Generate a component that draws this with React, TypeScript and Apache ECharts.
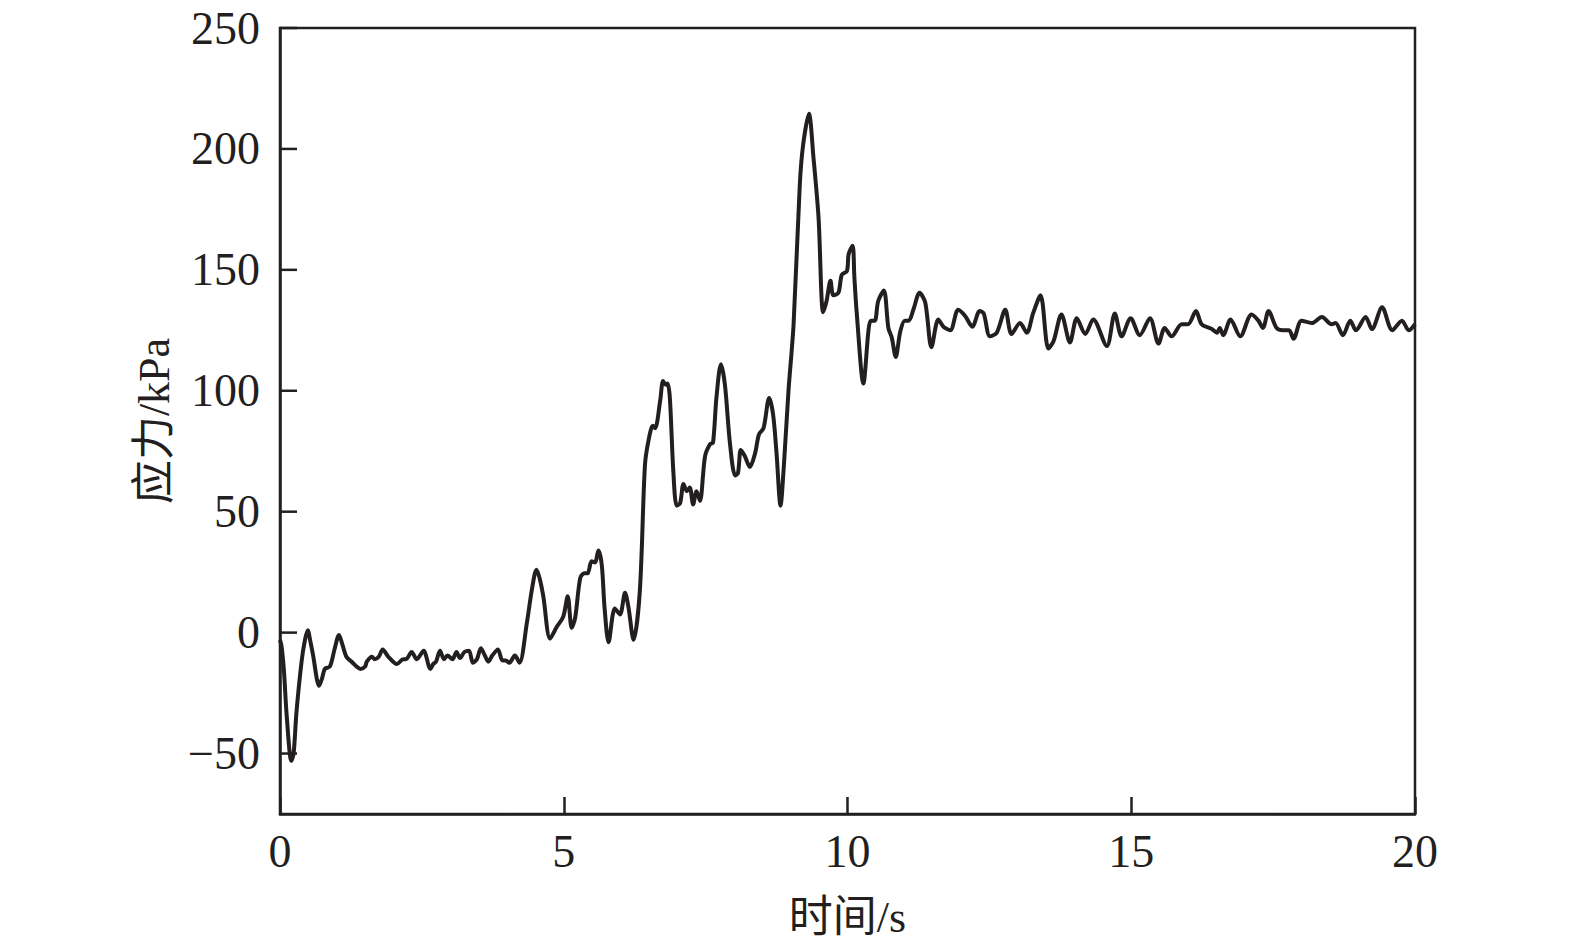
import React, { useEffect, useRef } from "react";
import * as echarts from "echarts";

const timeS = [0, 0.03, 0.07, 0.12, 0.2, 0.24, 0.29, 0.38, 0.44, 0.49, 0.53, 0.58, 0.69, 0.74, 0.79, 0.88, 0.96, 1.04, 1.1, 1.17, 1.26, 1.42, 1.5, 1.53, 1.62, 1.67, 1.74, 1.81, 1.91, 2.06, 2.17, 2.22, 2.32, 2.41, 2.53, 2.65, 2.7, 2.75, 2.82, 2.89, 2.95, 3.04, 3.11, 3.17, 3.25, 3.33, 3.4, 3.47, 3.54, 3.61, 3.67, 3.74, 3.84, 3.92, 3.98, 4.04, 4.14, 4.22, 4.35, 4.44, 4.52, 4.58, 4.64, 4.76, 4.88, 4.99, 5.07, 5.14, 5.2, 5.29, 5.36, 5.42, 5.49, 5.55, 5.61, 5.67, 5.72, 5.79, 5.9, 5.99, 6.08, 6.14, 6.23, 6.34, 6.43, 6.49, 6.57, 6.61, 6.7, 6.75, 6.8, 6.83, 6.87, 6.93, 6.99, 7.05, 7.11, 7.17, 7.22, 7.28, 7.34, 7.4, 7.49, 7.58, 7.63, 7.69, 7.77, 7.84, 7.93, 8.02, 8.07, 8.12, 8.19, 8.28, 8.37, 8.44, 8.52, 8.62, 8.69, 8.75, 8.82, 8.88, 8.96, 9.05, 9.16, 9.22, 9.32, 9.4, 9.49, 9.57, 9.63, 9.7, 9.75, 9.84, 9.9, 9.99, 10.02, 10.09, 10.12, 10.16, 10.28, 10.37, 10.41, 10.48, 10.54, 10.64, 10.72, 10.78, 10.85, 10.93, 11.01, 11.08, 11.16, 11.27, 11.37, 11.48, 11.6, 11.69, 11.81, 11.95, 12.07, 12.2, 12.33, 12.4, 12.51, 12.63, 12.78, 12.89, 13.04, 13.16, 13.27, 13.4, 13.54, 13.63, 13.77, 13.92, 14.04, 14.19, 14.33, 14.57, 14.71, 14.83, 14.99, 15.15, 15.33, 15.48, 15.59, 15.71, 15.89, 16.0, 16.14, 16.24, 16.42, 16.51, 16.56, 16.62, 16.75, 16.92, 17.12, 17.24, 17.32, 17.42, 17.56, 17.68, 17.78, 17.86, 18.0, 18.18, 18.36, 18.53, 18.6, 18.73, 18.86, 18.96, 19.13, 19.24, 19.42, 19.6, 19.77, 19.89, 20.0];

const stressKPa = [-3, -6, -16, -35, -53, -50, -33, -12, -3, 1, -3, -9, -22, -19, -15, -14, -7, -1, -5, -10, -12, -15, -14, -12, -10, -11, -10, -7, -10, -13, -11, -11, -8, -11, -7.5, -15, -13, -12, -7.5, -11, -9.5, -11, -8, -10.5, -8, -7.5, -12.5, -11, -6.5, -9.5, -12, -9.5, -7, -11.5, -11.5, -12.5, -9.5, -12.5, 4, 18, 26, 22, 15, -2.5, 2.5, 6.5, 15, 2, 6, 22.5, 24.5, 24.5, 29.5, 29, 34, 28, 10, -4, 10, 7.5, 16.5, 10.5, -3, 17, 69, 79, 85.5, 84.5, 96, 104, 102.5, 103, 97, 67, 52.5, 53.5, 61.5, 58.5, 60, 53, 58.5, 54.5, 73, 78, 78.5, 97, 111, 102.5, 78, 65, 66, 75.5, 73, 68.5, 74, 82, 84.5, 97, 90, 74, 52.5, 69.5, 100, 127.5, 185.5, 202, 214.5, 196.5, 171.5, 132.5, 137, 145.5, 139.5, 140.5, 148, 149.5, 156.5, 160, 147.5, 133, 103, 125, 129, 129, 137, 141.5, 126, 122, 114, 124.5, 129, 129, 133.5, 140.5, 136.5, 118, 129.5, 126.5, 125, 133.5, 131, 126.5, 133, 132, 122.5, 124, 133.5, 123.5, 128, 124, 132, 139.5, 117.5, 120.5, 131.5, 120, 130, 123.5, 129.5, 118.5, 132, 122.5, 130, 123, 130, 119.5, 126, 122.5, 127.5, 127.5, 133, 127.5, 125.5, 124, 126, 123, 129.5, 122.5, 131.5, 129, 126, 133, 126, 125, 125, 121.5, 129, 128, 130.5, 127.5, 128, 123, 129, 125, 130.5, 125.5, 134.5, 125, 129, 125, 127.5];

const yTicks = [-50, 0, 50, 100, 150, 200, 250];
const xTicks = [0, 5, 10, 15, 20];

const INK = "#231f20";
const FONT = "'Liberation Serif', 'Times New Roman', 'Noto Sans CJK SC', serif";
const TICK_LEN = 17;

export default function App() {
  const ref = useRef<HTMLDivElement>(null);
  useEffect(() => {
    if (!ref.current) return;
    const chart = echarts.init(ref.current, null, { renderer: "svg" });
    const data = timeS.map((t, i) => [t, stressKPa[i]]);
    const xMin = xTicks[0];
    const tickData = yTicks.map((v) => [xMin, v]);
    chart.setOption({
      animation: false,
      backgroundColor: "#ffffff",
      grid: {
        left: 280,
        right: 160,
        top: 28,
        bottom: 136,
        show: true,
        borderColor: INK,
        borderWidth: 2.5,
        backgroundColor: "transparent",
      },
      xAxis: {
        type: "value",
        min: 0,
        max: 20,
        interval: 5,
        name: "时间/s",
        nameLocation: "middle",
        nameGap: 81,
        nameTextStyle: { fontFamily: FONT, fontSize: 44, color: INK },
        axisLine: { show: true, onZero: false, lineStyle: { color: INK, width: 2.5 } },
        axisTick: { show: true, inside: true, length: TICK_LEN, lineStyle: { color: INK, width: 2.5 }, customValues: xTicks },
        axisLabel: { fontFamily: FONT, fontSize: 46, color: INK, margin: 14, customValues: xTicks },
        splitLine: { show: false },
      },
      yAxis: {
        type: "value",
        min: -75,
        max: 250,
        name: "应力/kPa",
        nameLocation: "middle",
        nameGap: 104,
        nameRotate: 90,
        nameTextStyle: { fontFamily: FONT, fontSize: 44, color: INK },
        axisLine: { show: true, onZero: false, lineStyle: { color: INK, width: 2.5 } },
        axisTick: { show: false },
        axisLabel: {
          fontFamily: FONT,
          fontSize: 46,
          color: INK,
          margin: 20,
          customValues: yTicks,
          formatter: (v: number) => String(v).replace("-", "\u2212"),
        },
        splitLine: { show: false },
      },
      series: [
        {
          type: "custom",
          data: tickData,
          silent: true,
          clip: false,
          renderItem: (params: any, api: any) => {
            const p = api.coord([api.value(0), api.value(1)]);
            return {
              type: "line",
              shape: { x1: p[0], y1: p[1], x2: p[0] + TICK_LEN, y2: p[1] },
              style: { stroke: INK, lineWidth: 2.5 },
            };
          },
        },
        {
          type: "line",
          data,
          showSymbol: false,
          smooth: 0.3,
          lineStyle: { color: INK, width: 4 },
        },
      ],
    });
    return () => chart.dispose();
  }, []);
  return (
    <div
      ref={ref}
      style={{ position: "absolute", left: 0, top: 0, width: 1575, height: 950 }}
    />
  );
}
